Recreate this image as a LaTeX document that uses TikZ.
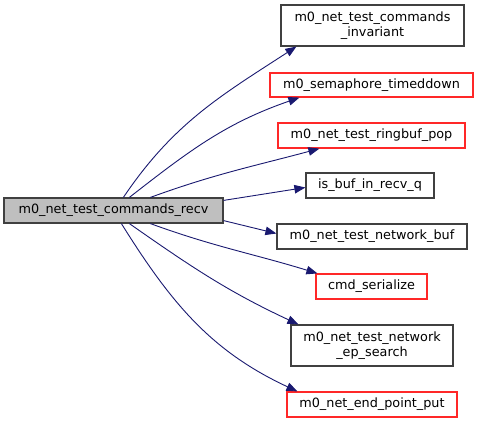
\documentclass[tikz,border=0pt]{standalone}
\usepackage{fontspec}
\setmainfont{DejaVu Sans}
\usetikzlibrary{arrows.meta,calc}
\definecolor{edgeblue}{RGB}{25,25,112}
\definecolor{boxgray}{RGB}{64,64,64}
\definecolor{fillgray}{RGB}{191,191,191}
\definecolor{boxred}{RGB}{255,40,40}
\begin{document}
\begin{tikzpicture}[x=1pt,y=1pt,
  every node/.style={font=\fontsize{12.8}{15.5}\selectfont, inner sep=0pt, align=center},
  fn/.style={draw=boxgray, line width=1.2pt, fill=white, minimum height=25pt},
  fnred/.style={draw=boxred, line width=1.2pt, fill=white, minimum height=25pt},
  fnmain/.style={draw=boxgray, line width=1.2pt, fill=fillgray, minimum height=25pt},
  link/.style={draw=edgeblue, line width=0.9pt, -{Triangle[length=11pt,width=8.5pt]}}
]
\useasboundingbox (0,0) rectangle (479,423);
\node[fnmain, minimum width=219pt] (L) at (113.5,212.5) {m0\_net\_test\_commands\_recv};
\node[fn, minimum width=183pt, minimum height=41pt] (N1) at (372.5,397.5) {m0\_net\_test\_commands\\\_invariant};
\node[fnred, minimum width=203pt, minimum height=24pt] (N2) at (371.5,338) {m0\_semaphore\_timeddown};
\node[fnred, minimum width=187pt] (N3) at (371.5,287.5) {m0\_net\_test\_ringbuf\_pop};
\node[fn, minimum width=128pt] (N4) at (370,237.5) {is\_buf\_in\_recv\_q};
\node[fn, minimum width=190pt] (N5) at (372,186.5) {m0\_net\_test\_network\_buf};
\node[fnred, minimum width=111pt] (N6) at (371.5,136.5) {cmd\_serialize};
\node[fn, minimum width=162pt, minimum height=41pt] (N7) at (372,77.5) {m0\_net\_test\_network\\\_ep\_search};
\node[fnred, minimum width=170pt] (N8) at (372,18.5) {m0\_net\_end\_point\_put};

\draw[link] ($(L.north west)+(120,0)$) to[out=56,in=213] ($(N1.south west)+(16,0)$);
\draw[link] ($(L.north west)+(126,0)$) to[out=38,in=199] ($(N2.south west)+(30,0)$);
\draw[link] ($(L.north west)+(147,0)$) to[out=20,in=195] ($(N3.south west)+(42,0)$);
\draw[link] ($(L.north east)+(0,-3)$) -- ($(N4.west)+(0,-2)$);
\draw[link] ($(L.south east)+(0,3)$) -- ($(N5.west)+(0,3)$);
\draw[link] ($(L.south west)+(147,0)$) to[out=-20,in=163] ($(N6.north west)+(2,0)$);
\draw[link] ($(L.south west)+(126,0)$) to[out=-35,in=155] ($(N7.north west)+(8,0)$);
\draw[link] ($(L.south west)+(118,0)$) to[out=-58,in=155] ($(N8.north west)+(11,0)$);
\end{tikzpicture}
\end{document}
